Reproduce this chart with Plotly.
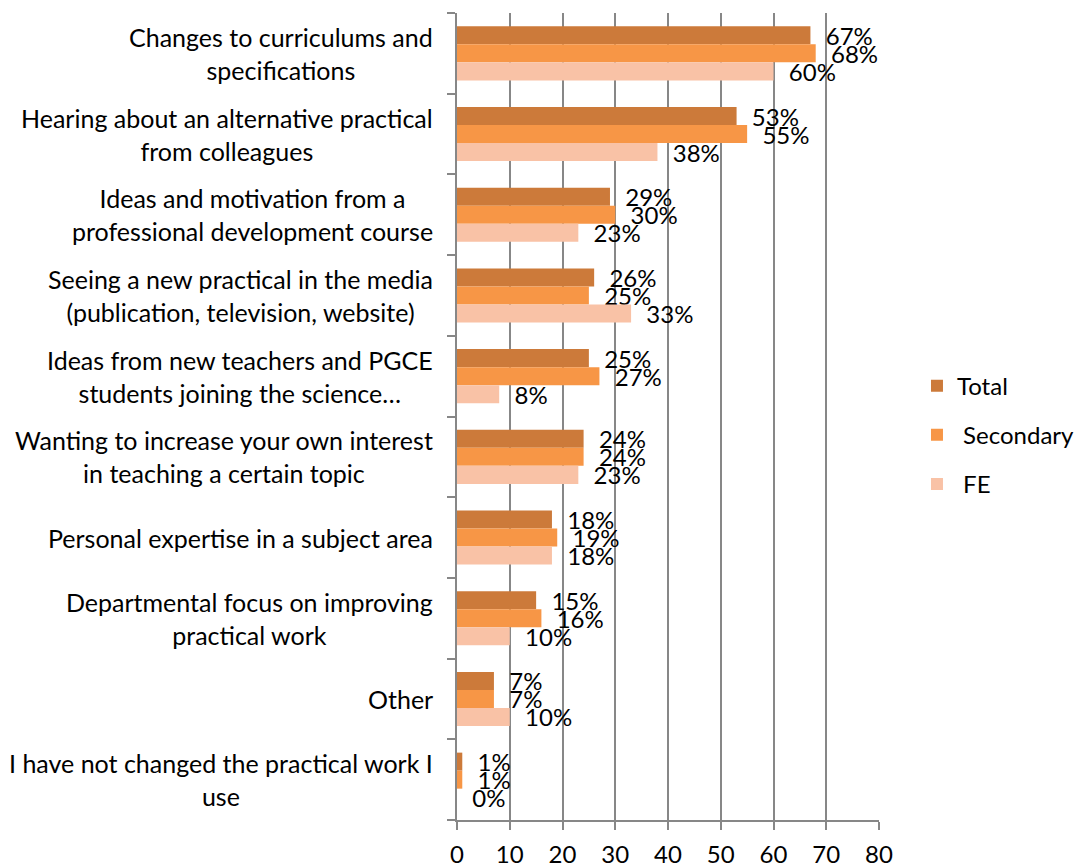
import plotly.graph_objects as go

categories = [
    "Changes to curriculums and<br>specifications",
    "Hearing about an alternative practical<br>from colleagues",
    "Ideas and motivation from a<br>professional development course",
    "Seeing a new practical in the media<br>(publication, television, website)",
    "Ideas from new teachers and PGCE<br>students joining the science…",
    "Wanting to increase your own interest<br>in teaching a certain topic",
    "Personal expertise in a subject area",
    "Departmental focus on improving<br>practical work",
    "Other",
    "I have not changed the practical work I<br>use",
]
total = [67, 53, 29, 26, 25, 24, 18, 15, 7, 1]
secondary = [68, 55, 30, 25, 27, 24, 19, 16, 7, 1]
fe = [60, 38, 23, 33, 8, 23, 18, 10, 10, 0]
x_ticks = [0, 10, 20, 30, 40, 50, 60, 70, 80]

series = [
    ("Total", total, "#CC7A3A"),
    ("&nbsp;Secondary", secondary, "#F79646"),
    ("&nbsp;FE", fe, "#F9C2A6"),
]

FONT = "Lato, 'Open Sans', sans-serif"
FS = 24
fig = go.Figure()
for i, (name, vals, color) in enumerate(series):
    fig.add_trace(go.Bar(
        y=list(range(len(categories))),
        x=vals,
        name=name,
        orientation="h",
        marker=dict(color=color, line=dict(width=0)),
        text=[f"&nbsp;&nbsp;{v}%" for v in vals],
        textposition="outside",
        constraintext="none",
        cliponaxis=False,
        textfont=dict(family=FONT, size=FS, color="#000000"),
        legendgroup=f"g{i}",
    ))

for i, c in enumerate(categories):
    fig.add_annotation(
        x=0, xref="paper", y=i, yref="y",
        text=c, showarrow=False, xanchor="right", yanchor="middle",
        align="center", xshift=-22,
        font=dict(family=FONT, size=25, color="#000000"),
    )

grid_color = "#878787"
fig.update_layout(
    width=1078, height=865,
    margin=dict(l=457, r=199, t=13, b=45, autoexpand=False),
    paper_bgcolor="white", plot_bgcolor="white",
    barmode="group", bargap=0.33, bargroupgap=0,
    font=dict(family=FONT, size=FS, color="#000000"),
    legend=dict(
        x=1.09, xanchor="left", y=0.477, yanchor="middle",
        font=dict(family=FONT, size=FS, color="#000000"),
        tracegroupgap=15, bgcolor="rgba(0,0,0,0)",
    ),
    xaxis=dict(
        range=[0, 80], tickvals=x_ticks, ticktext=[str(t) for t in x_ticks],
        showgrid=True, gridcolor=grid_color, gridwidth=2,
        showline=True, linecolor=grid_color, linewidth=2,
        ticks="outside", ticklen=8, tickwidth=2, tickcolor=grid_color,
        ticklabelstandoff=4, zeroline=False,
        tickfont=dict(family=FONT, size=FS, color="#000000"),
        fixedrange=True,
    ),
    yaxis=dict(
        type="linear", range=[len(categories) - 0.5, -0.5],
        tickvals=[i - 0.5 for i in range(len(categories) + 1)],
        showticklabels=False, showgrid=False,
        showline=True, linecolor=grid_color, linewidth=2,
        ticks="outside", ticklen=8, tickwidth=2, tickcolor=grid_color,
        zeroline=False, fixedrange=True,
    ),
)

fig.write_html(
    "out.html",
    config={"displayModeBar": False},
    post_script="document.body.style.margin='0';document.body.style.padding='0';",
)
